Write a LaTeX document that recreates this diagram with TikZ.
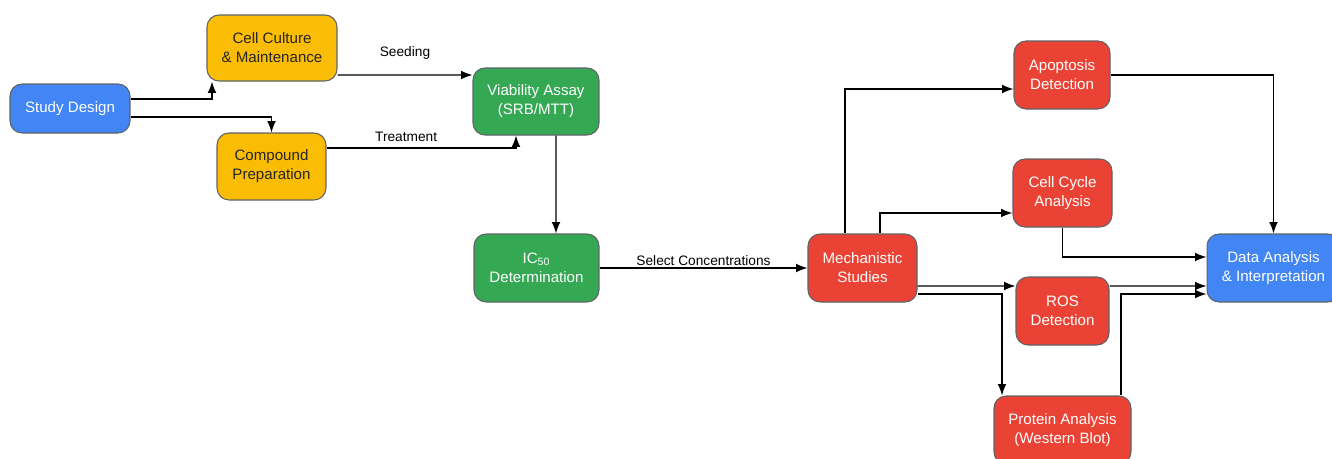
\documentclass[tikz,border=0pt]{standalone}
\usepackage{fontspec}
\setmainfont{Liberation Sans}
\usepackage{tikz}
\usetikzlibrary{arrows.meta}
\usetikzlibrary{positioning}

\definecolor{gblue}{HTML}{4285F4}
\definecolor{gyellow}{HTML}{FBBC04}
\definecolor{ggreen}{HTML}{34A853}
\definecolor{gred}{HTML}{EA4335}
\definecolor{gborder}{HTML}{5F6368}

\tikzset{
  box/.style={draw=gborder, line width=0.6pt, rounded corners=0.24cm, align=center,
    font=\fontsize{8.6}{10.8}\selectfont, text=white, inner sep=2pt},
  lbl/.style={font=\fontsize{7.8}{9}\selectfont, text=black, inner sep=1pt},
  arr/.style={line width=0.75pt, -{Latex[length=6.5pt,width=5pt]}}
}

\begin{document}
\begin{tikzpicture}[x=0.02cm,y=-0.02cm]
  \useasboundingbox (0,0) rectangle (1332,458);

  % first stage
  \node[box, fill=gblue, minimum width=2.4cm, minimum height=0.98cm] (sd) at (70,108.5) {Study Design};
  \node[box, fill=gyellow, text=black!85, minimum width=2.6cm, minimum height=1.32cm] (cc) at (272,48) {Cell Culture\\\& Maintenance};
  \node[box, fill=gyellow, text=black!85, minimum width=2.18cm, minimum height=1.34cm] (cp) at (271.5,166.5) {Compound\\Preparation};
  \node[box, fill=ggreen, minimum width=2.52cm, minimum height=1.34cm] (va) at (536,101.5) {Viability Assay\\(SRB/MTT)};
  \node[box, fill=ggreen, minimum width=2.5cm, minimum height=1.36cm] (ic) at (536.5,268) {IC\textsubscript{50}\\Determination};

  % mechanistic part
  \node[box, fill=gred, minimum width=2.18cm, minimum height=1.36cm] (ms) at (862.5,268) {Mechanistic\\Studies};
  \node[box, fill=gred, minimum width=1.92cm, minimum height=1.36cm] (ap) at (1062,75) {Apoptosis\\Detection};
  \node[box, fill=gred, minimum width=1.98cm, minimum height=1.36cm] (cy) at (1062.5,193) {Cell Cycle\\Analysis};
  \node[box, fill=gred, minimum width=1.86cm, minimum height=1.36cm] (ro) at (1062.5,311) {ROS\\Detection};
  \node[box, fill=gred, minimum width=2.74cm, minimum height=1.36cm] (pa) at (1062.5,430) {Protein Analysis\\(Western Blot)};
  \node[box, fill=gblue, minimum width=2.66cm, minimum height=1.36cm] (da) at (1273.5,268) {Data Analysis\\\& Interpretation};

  % connectors
  \draw[arr] ([yshift=0.19cm]sd.east) -| ([xshift=-1.2cm]cc.south);
  \draw[arr] ([yshift=-0.17cm]sd.east) -| (cp.north);
  \draw[arr] ([yshift=-0.54cm]cc.east) -- node[lbl, midway, yshift=0.45cm] {Seeding} ([yshift=0.53cm]va.west);
  \draw[arr] ([yshift=0.37cm]cp.east) -| node[lbl, pos=0.21, yshift=0.22cm] {Treatment} ([xshift=-0.4cm]va.south);
  \draw[arr] ([xshift=0.4cm]va.south) -- ([xshift=0.39cm]ic.north);
  \draw[arr] (ic) -- node[lbl, above] {Select Concentrations} (ms);

  \draw[arr] ([xshift=-0.35cm]ms.north) |- ([yshift=-0.28cm]ap.west);
  \draw[arr] ([xshift=0.35cm]ms.north) |- ([yshift=-0.4cm]cy.west);
  \draw[arr] ([yshift=-0.36cm]ms.east) -- ([yshift=0.5cm]ro.west);
  \draw[arr] ([yshift=-0.52cm]ms.east) -| ([xshift=-1.21cm]pa.north);

  \draw[arr] (ap.east) -| (da.north);
  \draw[arr] (cy.south) |- ([yshift=0.22cm]da.west);
  \draw[arr] ([yshift=0.5cm]ro.east) -- ([yshift=-0.36cm]da.west);
  \draw[arr] ([xshift=1.17cm]pa.north) |- ([yshift=-0.52cm]da.west);
\end{tikzpicture}
\end{document}
